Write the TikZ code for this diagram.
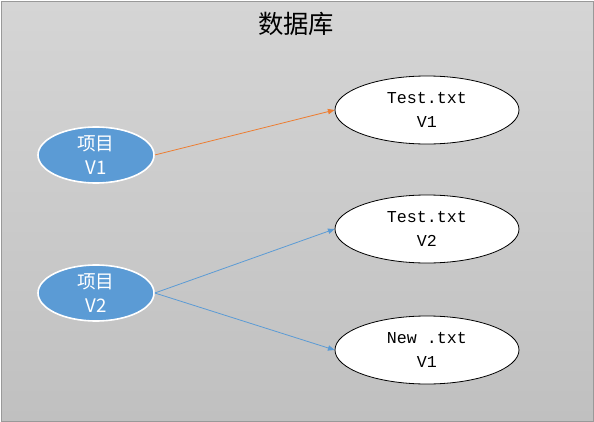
\documentclass[tikz,border=0pt]{standalone}
\usepackage{fontspec}
\usepackage{tikz}
\usetikzlibrary{arrows.meta,shapes.geometric}
\newfontfamily\cjk{Noto Sans CJK SC}
\newfontfamily\txtmono{Liberation Mono}
\definecolor{projblue}{RGB}{91,155,213}
\definecolor{linkorange}{RGB}{237,125,49}
\definecolor{bgtop}{RGB}{213,213,213}
\definecolor{bgbottom}{RGB}{192,192,192}

\begin{document}
\begin{tikzpicture}[x=0.75pt,y=-0.75pt,>={Triangle[length=5pt,width=4pt]},
  project/.style={ellipse,draw=white,line width=1.2pt,fill=projblue,text=white,
    minimum width=87pt,minimum height=42pt,inner sep=0pt,align=center,
    font=\cjk\fontsize{14}{18}\selectfont},
  file/.style={ellipse,draw=black,line width=0.6pt,fill=white,
    minimum width=138pt,minimum height=51pt,inner sep=0pt,align=center,
    font=\txtmono\fontsize{12.5}{18}\selectfont}]
\useasboundingbox (0,0) rectangle (594,422);
\shade[top color=bgtop,bottom color=bgbottom,draw=gray!80] (1,1) rectangle (593,421);
\node[font=\cjk\fontsize{19}{22}\selectfont] (title) at (296,24) {数据库};
% projects
\node[project] (projA) at (96,155) {项目\\V1};
\node[project] (projB) at (96,293) {项目\\V2};
% files
\node[file] (testA) at (427,110) {Test.txt\\V1};
\node[file] (testB) at (427,229) {Test.txt\\V2};
\node[file] (newA) at (427,350) {New .txt\\V1};
% links
\draw[->,linkorange,line width=0.6pt] (projA.east) -- (testA.west);
\draw[->,projblue,line width=0.6pt] (projB.east) -- (testB.west);
\draw[->,projblue,line width=0.6pt] (projB.east) -- (newA.west);
\end{tikzpicture}
\end{document}
